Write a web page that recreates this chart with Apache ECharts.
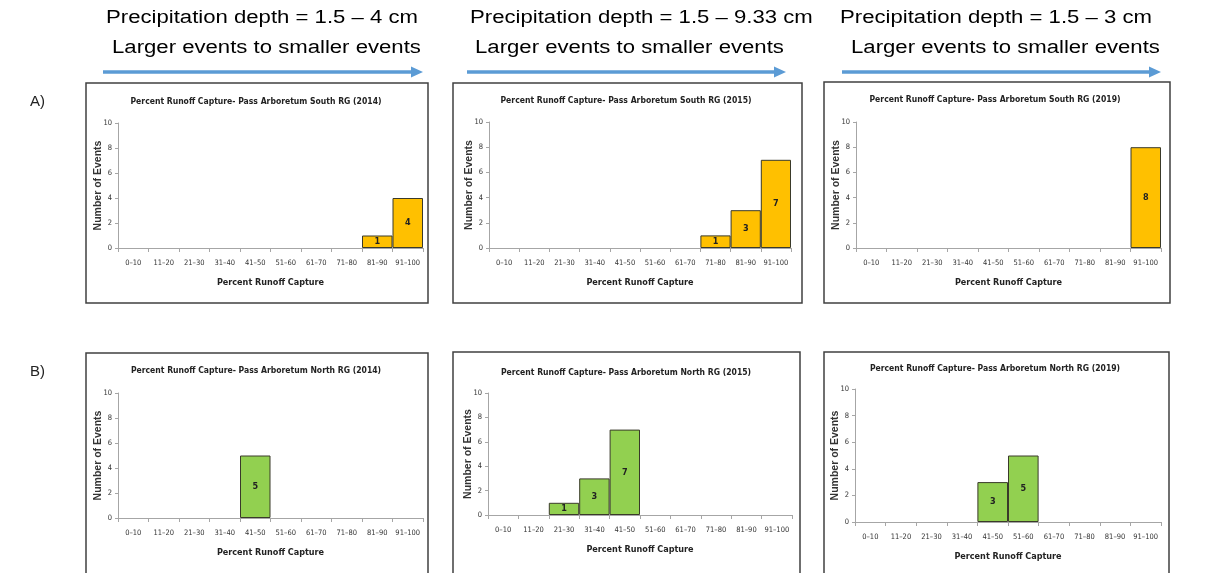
<!DOCTYPE html>
<html>
<head>
<meta charset="utf-8">
<script src="https://cdn.jsdelivr.net/npm/echarts@6/dist/echarts.min.js"></script>
<style>
html,body{margin:0;padding:0;background:#fff;}
#c{width:1209px;height:573px;}
</style>
</head>
<body>
<div id="c"></div>
<script>
// ---- data ----
const categories = ['0–10','11–20','21–30','31–40','41–50','51–60','61–70','71–80','81–90','91–100'];
const southRG2014 = [0,0,0,0,0,0,0,0,1,4];
const southRG2015 = [0,0,0,0,0,0,0,1,3,7];
const southRG2019 = [0,0,0,0,0,0,0,0,0,8];
const northRG2014 = [0,0,0,0,5,0,0,0,0,0];
const northRG2015 = [0,0,1,3,7,0,0,0,0,0];
const northRG2019 = [0,0,0,0,3,5,0,0,0,0];
const chartTitles = [
  'Percent Runoff Capture- Pass Arboretum South RG (2014)',
  'Percent Runoff Capture- Pass Arboretum South RG (2015)',
  'Percent Runoff Capture- Pass Arboretum South RG (2019)',
  'Percent Runoff Capture- Pass Arboretum North RG (2014)',
  'Percent Runoff Capture- Pass Arboretum North RG (2015)',
  'Percent Runoff Capture- Pass Arboretum North RG (2019)'
];
const headerDepth = ['Precipitation depth = 1.5 – 4 cm','Precipitation depth = 1.5 – 9.33 cm','Precipitation depth = 1.5 – 3 cm'];
const headerOrder = 'Larger events to smaller events';
const rowLabels = ['A)','B)'];
const yAxisName = 'Number of Events';
const xAxisName = 'Percent Runoff Capture';

// ---- layout ----
const ORANGE = '#FFC000', GREEN = '#92D050';
const panels = [
  {vals: southRG2014, color: ORANGE, grid:{left:118, top:123, width:305, height:125}, box:[86,83,342,220], title:[256,102]},
  {vals: southRG2015, color: ORANGE, grid:{left:489, top:122, width:302, height:126}, box:[453,83,349,220], title:[626,101]},
  {vals: southRG2019, color: ORANGE, grid:{left:856, top:122, width:305, height:126}, box:[824,82,346,221], title:[995,100]},
  {vals: northRG2014, color: GREEN,  grid:{left:118, top:393, width:305, height:125}, box:[86,353,342,240], title:[256,371]},
  {vals: northRG2015, color: GREEN,  grid:{left:488, top:393, width:304, height:122}, box:[453,352,347,240], title:[626,373]},
  {vals: northRG2019, color: GREEN,  grid:{left:855, top:389, width:306, height:133}, box:[824,352,345,240], title:[995,369]}
];
const headers = [
  {t1x:106, t2x:112, a1:103, a2:423},
  {t1x:470, t2x:475, a1:467, a2:786},
  {t1x:840, t2x:851, a1:842, a2:1161}
];
const NARROW = "'Liberation Sans Narrow','DejaVu Sans Condensed',sans-serif";
const ARIAL = "'Liberation Sans',Arial,sans-serif";
const AXC = '#a6a6a6';

const grids = [], xAxes = [], yAxes = [], series = [], graphics = [];
panels.forEach((p, i) => {
  grids.push(Object.assign({containLabel:false}, p.grid));
  xAxes.push({
    type:'category', gridIndex:i, data:categories,
    axisLine:{lineStyle:{color:AXC, width:1}},
    axisTick:{show:true, alignWithLabel:false, length:4, lineStyle:{color:AXC}},
    axisLabel:{interval:0, fontSize:7.5, color:'#333', margin:11, fontFamily:NARROW},
    name:xAxisName, nameLocation:'middle', nameGap:30, nameMoveOverlap:false,
    nameTextStyle:{fontSize:9, color:'#222', fontFamily:NARROW, fontWeight:'bold'}
  });
  yAxes.push({
    type:'value', gridIndex:i, min:0, max:10, interval:2,
    axisLine:{show:true, lineStyle:{color:AXC, width:1}},
    axisTick:{show:true, length:3, lineStyle:{color:AXC}},
    splitLine:{show:false},
    axisLabel:{fontSize:7.5, color:'#333', margin:6, fontFamily:NARROW},
    name:yAxisName, nameLocation:'middle', nameRotate:90, nameGap:14, nameMoveOverlap:false,
    nameTextStyle:{fontSize:10.5, color:'#333', fontWeight:'bold', fontFamily:ARIAL}
  });
  series.push({
    type:'bar', xAxisIndex:i, yAxisIndex:i,
    data:p.vals.map(v => v === 0 ? '-' : v),
    barWidth:'100%', barCategoryGap:'0%',
    itemStyle:{color:p.color, borderColor:'#3a3a2a', borderWidth:1},
    label:{show:true, position:'inside', fontSize:9, fontWeight:'bold', color:'#222', fontFamily:NARROW}
  });
  graphics.push({type:'rect', shape:{x:p.box[0], y:p.box[1], width:p.box[2], height:p.box[3]},
    style:{fill:null, stroke:'#404040', lineWidth:1.5}, z:-1});
  graphics.push({type:'text', x:p.title[0], y:p.title[1], scaleX:0.9,
    style:{text:chartTitles[i], align:'center', verticalAlign:'middle', fontSize:9.5, fontWeight:'bold', fill:'#222', fontFamily:NARROW}});
});
headers.forEach((h, i) => {
  graphics.push({type:'text', x:h.t1x, y:18, scaleX:1.23,
    style:{text:headerDepth[i], align:'left', verticalAlign:'middle', fontSize:18, fill:'#000', fontFamily:ARIAL}});
  graphics.push({type:'text', x:h.t2x, y:48, scaleX:1.23,
    style:{text:headerOrder, align:'left', verticalAlign:'middle', fontSize:18, fill:'#000', fontFamily:ARIAL}});
  graphics.push({type:'line', shape:{x1:h.a1, y1:72, x2:h.a2-10, y2:72}, style:{stroke:'#5b9bd5', lineWidth:3.5}});
  graphics.push({type:'polygon', shape:{points:[[h.a2-12,66.5],[h.a2,72],[h.a2-12,77.5]]}, style:{fill:'#5b9bd5'}});
});
graphics.push({type:'text', x:30, y:102, style:{text:rowLabels[0], align:'left', verticalAlign:'middle', fontSize:15, fill:'#222', fontFamily:ARIAL}});
graphics.push({type:'text', x:30, y:372, style:{text:rowLabels[1], align:'left', verticalAlign:'middle', fontSize:15, fill:'#222', fontFamily:ARIAL}});

const chart = echarts.init(document.getElementById('c'), null, {renderer:'canvas'});
chart.setOption({
  animation:false,
  backgroundColor:'#fff',
  grid:grids, xAxis:xAxes, yAxis:yAxes, series:series,
  graphic:graphics
});
</script>
</body>
</html>
